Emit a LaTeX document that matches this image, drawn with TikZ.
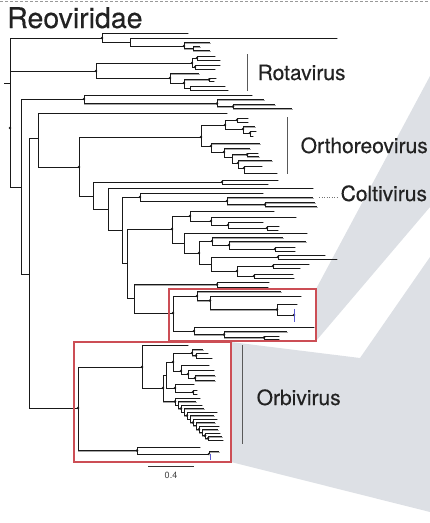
\documentclass[tikz,border=0pt]{standalone}
\usepackage{fontspec}
\setmainfont{TeX Gyre Heros}
\newfontfamily\labfont[FakeBold=0.35]{TeX Gyre Heros}
\definecolor{wedge}{HTML}{DDE0E5}
\definecolor{boxred}{HTML}{CC4E55}
\definecolor{txt}{HTML}{222222}
\definecolor{markblue}{HTML}{5A5ACF}
\newcommand\lf[4]{\coordinate (#1) at (#3,#4); \draw[brl] (#2) |- (#1);}
\newcommand\nn[4]{\coordinate (#1) at (#3,#4); \draw[brl] (#2) |- (#1);}
\newcommand\nd[4]{\coordinate (#1) at (#3,#4); \draw[brl] (#2) |- (#1); \fill[dotc] (#1) circle[radius=1.4pt];}
\begin{document}
\begin{tikzpicture}[x=1pt,y=-1pt,
  brl/.style={draw=black!90, line width=0.85pt,
    preaction={draw=black!35, line width=0.9pt, transform canvas={shift={(0.7pt,-0.9pt)}}}},
  dotc/.style={fill=black!90},
  bar/.style={draw=black!65, line width=0.9pt},
  lab/.style={anchor=base west, inner sep=0pt, text=txt, font=\labfont\fontsize{21}{21}\selectfont},
  rbox/.style={draw=boxred, line width=1.3pt}]
\useasboundingbox (0,0) rectangle (430,523);
% zoom wedges
\fill[wedge] (316,289) -- (430,76) -- (430,207) -- (316,341) -- cycle;
\fill[wedge] (231,342) -- (360,358) -- (430,257) -- (430,512) -- (231,462) -- cycle;
% top dashed rule
\coordinate (dl) at (0,1.5); \coordinate (dr) at (430,1.5);
\draw[black!40, line width=0.8pt, dash pattern=on 3pt off 2pt] (dl) -- (dr);
% title
\node[anchor=base west, inner sep=0pt, text=txt, font=\labfont\fontsize{28.5}{28.5}\selectfont] (title) at (7,28) {Reoviridae};
% ---------- tree ----------
\coordinate (R) at (10,128);
\coordinate (R0) at (4,83); \coordinate (R1) at (10,83);
\draw[brl] (R0) -- (R1);
% top clade
\nd{t1}{R}{102}{38}
\lf{t1l1}{t1}{188}{33}
\nn{t1b}{t1}{130}{42}
\lf{t1l2}{t1b}{337}{38}
\nd{t1c}{t1b}{184}{46}
\lf{t1l3}{t1c}{210}{42.5}
\nn{t1d}{t1c}{193}{48.5}
\lf{t1l4}{t1d}{200}{46.5}
\lf{t1l5}{t1d}{210}{50.5}
% rotavirus
\nd{t2}{R}{96}{71}
\nd{t2a}{t2}{192}{63}
\nd{t2b}{t2a}{197}{58}
\lf{t2l1}{t2b}{215}{56}
\lf{t2l2}{t2b}{220}{60}
\nd{t2c}{t2a}{195}{67}
\lf{t2l3}{t2c}{220}{65}
\lf{t2l4}{t2c}{215}{69}
\nd{t2d}{t2}{170}{78}
\lf{t2l5}{t2d}{199}{73.5}
\nd{t2e}{t2d}{184}{83}
\nd{t2f}{t2e}{209}{79.5}
\lf{t2l6}{t2f}{216}{78}
\lf{t2l7}{t2f}{214}{81}
\nn{t2g}{t2e}{190}{88}
\lf{t2l8}{t2g}{225}{86}
\lf{t2l9}{t2g}{228}{90}
% ladder
\nn{n21}{R}{21}{187}
\nd{t3}{n21}{84}{99}
\lf{t3l1}{t3}{252}{95}
\nd{t3a}{t3}{217}{103.5}
\lf{t3l2}{t3a}{264}{99.5}
\nd{t3b}{t3a}{233}{106.5}
\lf{t3l3}{t3b}{275}{104.5}
\lf{t3l4}{t3b}{292}{108.5}
\nn{n29}{n21}{29}{274}
\nn{n38}{n29}{38}{138}
\lf{l113}{n38}{227}{113}
\nd{o0}{n38}{79}{167}
% orthoreovirus
\nd{or}{o0}{201}{137}
\nd{ora}{or}{225}{125}
\nd{orc}{ora}{237}{120}
\lf{orl1}{orc}{248}{118}
\lf{orl2}{orc}{248}{122}
\nd{ord}{ora}{243}{129}
\lf{orl3}{ord}{255}{126.5}
\nd{ore}{ord}{250}{133}
\lf{orl4}{ore}{256}{131}
\lf{orl5}{ore}{253}{136}
\nd{orb}{or}{211}{146}
\lf{orl6}{orb}{260}{143.5}
\nd{orf}{orb}{224}{152}
\lf{orl7}{orf}{250}{148.5}
\nn{org}{orf}{232}{157}
\nd{orh}{org}{247}{154.5}
\lf{orl8}{orh}{258}{153}
\lf{orl9}{orh}{259}{156.5}
\nd{ori}{org}{238}{163}
\lf{orl10}{ori}{272}{160.5}
\nd{orj}{ori}{244}{168}
\lf{orl11}{orj}{262}{166}
\lf{orl12}{orj}{277}{173}
% middle part
\nn{o1}{o0}{93}{196}
\nd{c1}{o1}{222}{182}
\lf{cl1}{c1}{278}{180}
\lf{cl2}{c1}{268}{184}
\nn{n108}{o1}{108}{209}
\lf{cl3}{n108}{313}{188}
\nn{n122}{n108}{122}{230}
\nd{c2}{n122}{140}{197}
\lf{cl4}{c2}{263}{193}
\nd{c3}{c2}{227}{201}
\lf{cl5}{c3}{313}{197.5}
\nd{c4}{c3}{265}{204.5}
\lf{cl6}{c4}{315}{202.5}
\lf{cl7}{c4}{317}{206.5}
\nn{n127}{n122}{127}{263}
\nd{d1}{n127}{172}{229}
\nd{d2}{d1}{190}{216}
\lf{dl1}{d2}{274}{211}
\nd{d3}{d2}{211}{221}
\lf{dl2}{d3}{296}{217}
\nd{d4}{d3}{228}{225}
\lf{dl3}{d4}{263}{222}
\nd{d5}{d4}{267}{228}
\lf{dl4}{d5}{279}{226}
\lf{dl5}{d5}{278}{230}
\nn{d6}{d1}{184}{243}
\lf{dl6}{d6}{307}{233}
\nd{d7}{d6}{199}{253}
\nd{d8}{d7}{212}{241}
\lf{dl7}{d8}{283}{237.5}
\nd{d9}{d8}{229}{245}
\lf{dl8}{d9}{306}{241.5}
\nd{d10}{d9}{275}{249}
\lf{dl9}{d10}{295}{247}
\lf{dl10}{d10}{295}{251}
\nn{d11}{d7}{211}{264}
\nd{d12}{d11}{278}{257}
\lf{dl11}{d12}{325}{255}
\lf{dl12}{d12}{337}{259}
\nd{d13}{d11}{237}{271}
\nd{d14}{d13}{273}{266}
\lf{dl13}{d14}{309}{264}
\lf{dl14}{d14}{300}{268}
\nd{d15}{d13}{254}{276}
\lf{dl15}{d15}{293}{274}
\lf{dl16}{d15}{294}{278}
\nn{n134}{n127}{134}{298}
\nd{e1}{n134}{217}{284.5}
\lf{el1}{e1}{269}{282}
\lf{el2}{e1}{268}{287}
% boxed clade
\nd{b0}{n134}{173}{313}
\nd{b1}{b0}{197}{296}
\lf{bl1}{b1}{281}{291.5}
\nd{b2}{b1}{210}{300.5}
\lf{bl2}{b2}{301}{296}
\nd{b3}{b2}{277}{309.5}
\lf{bl3}{b3}{297}{304}
\nd{b4}{b3}{294}{315}
\nd{b5}{b0}{194}{331}
\lf{bl4}{b5}{314}{327}
\nd{b6}{b5}{224}{334.5}
\lf{bl5}{b6}{287}{331.5}
\nd{b7}{b6}{264}{337.5}
\lf{bl6}{b7}{279}{336}
\lf{bl7}{b7}{279}{339}
\coordinate (bm1) at (294,309); \coordinate (bm2) at (294,322);
\draw[markblue, line width=0.9pt] (bm1) -- (bm2);
% orbivirus
\nd{ob}{n29}{78}{408}
\nd{p1}{ob}{142}{367}
\lf{pl1}{p1}{188}{345}
\nd{p2}{p1}{163}{388}
\nn{p3}{p2}{166}{375}
\nd{p4}{p3}{173}{362}
\nd{p4a}{p4}{192}{353}
\lf{pl2}{p4a}{203}{349.5}
\nd{p4b}{p4a}{196}{355.5}
\lf{pl3}{p4b}{208}{353}
\lf{pl4}{p4b}{212}{358}
\nd{p4c}{p4}{181}{371}
\lf{pl5}{p4c}{209}{365}
\nd{p4d}{p4c}{188}{374}
\lf{pl6}{p4d}{214}{370}
\nd{p4e}{p4d}{195}{378}
\lf{pl7}{p4e}{215}{375.5}
\lf{pl8}{p4e}{215}{380.5}
\nd{p7}{p3}{175}{388}
\lf{pl9}{p7}{194}{384}
\nd{p7a}{p7}{193}{392}
\lf{pl10}{p7a}{197}{390}
\lf{pl11}{p7a}{197}{394}
\nd{q0}{p2}{175}{401.5}
\lf{ql0}{q0}{200}{398}
\nn{q1}{q0}{178}{405}
\lf{ql1}{q1}{196}{401.5}
\nd{q2}{q1}{181}{408.5}
\lf{ql2}{q2}{202}{405}
\nn{q3}{q2}{184}{412}
\lf{ql3}{q3}{204}{408.5}
\nd{q4}{q3}{187}{415.5}
\lf{ql4}{q4}{217}{412}
\nn{q5}{q4}{190}{419}
\lf{ql5}{q5}{214}{415.5}
\nd{q6}{q5}{193}{422.5}
\lf{ql6}{q6}{217}{419}
\nn{q7}{q6}{196}{425.9}
\lf{ql7}{q7}{215}{422.5}
\nd{q8}{q7}{199}{429.3}
\lf{ql8}{q8}{219}{426}
\nn{q9}{q8}{202}{432.6}
\lf{ql9}{q9}{218}{429.5}
\nd{q10}{q9}{205}{435.6}
\lf{ql10}{q10}{220}{433}
\nd{q11}{q10}{208}{438.3}
\lf{ql11}{q11}{222}{436.5}
\lf{ql12}{q11}{223}{440}
\nd{p9}{ob}{137}{450.5}
\lf{pl12}{p9}{200}{447}
\nd{p10}{p9}{209}{454}
\lf{pl13}{p10}{219}{451.5}
\coordinate (bm3) at (210,454); \coordinate (bm4) at (210,460);
\draw[markblue, line width=0.9pt] (bm3) -- (bm4);
\fill[dotc] (R) circle[radius=1.4pt];
% red boxes
\draw[rbox] (169,289) rectangle (316,341);
\draw[rbox] (74,342) rectangle (231,462);
% clade bars and labels
\coordinate (rb1) at (247.7,54); \coordinate (rb2) at (247.7,91);
\draw[bar] (rb1) -- (rb2);
\node[lab] (rota) at (257.5,80) {Rotavirus};
\coordinate (ob1) at (287,117); \coordinate (ob2) at (287,174);
\draw[bar] (ob1) -- (ob2);
\node[lab] (ortho) at (300.5,153) {Orthoreovirus};
\coordinate (cd1) at (319,197); \coordinate (cd2) at (337,197);
\draw[black!55, line width=0.8pt, dash pattern=on 1.2pt off 1.3pt] (cd1) -- (cd2);
\node[lab] (colti) at (340.5,201) {Coltivirus};
\coordinate (vb1) at (242,345); \coordinate (vb2) at (242,444);
\draw[bar] (vb1) -- (vb2);
\node[lab] (orbi) at (256.5,405) {Orbivirus};
% scale bar
\coordinate (s1) at (148,466); \coordinate (s2) at (194,466);
\draw[black!80, line width=0.8pt] (s1) -- (s2);
\node[inner sep=0pt, text=black!75, font=\fontsize{9}{9}\selectfont] (sc) at (171,475.5) {0.4};
\end{tikzpicture}
\end{document}
